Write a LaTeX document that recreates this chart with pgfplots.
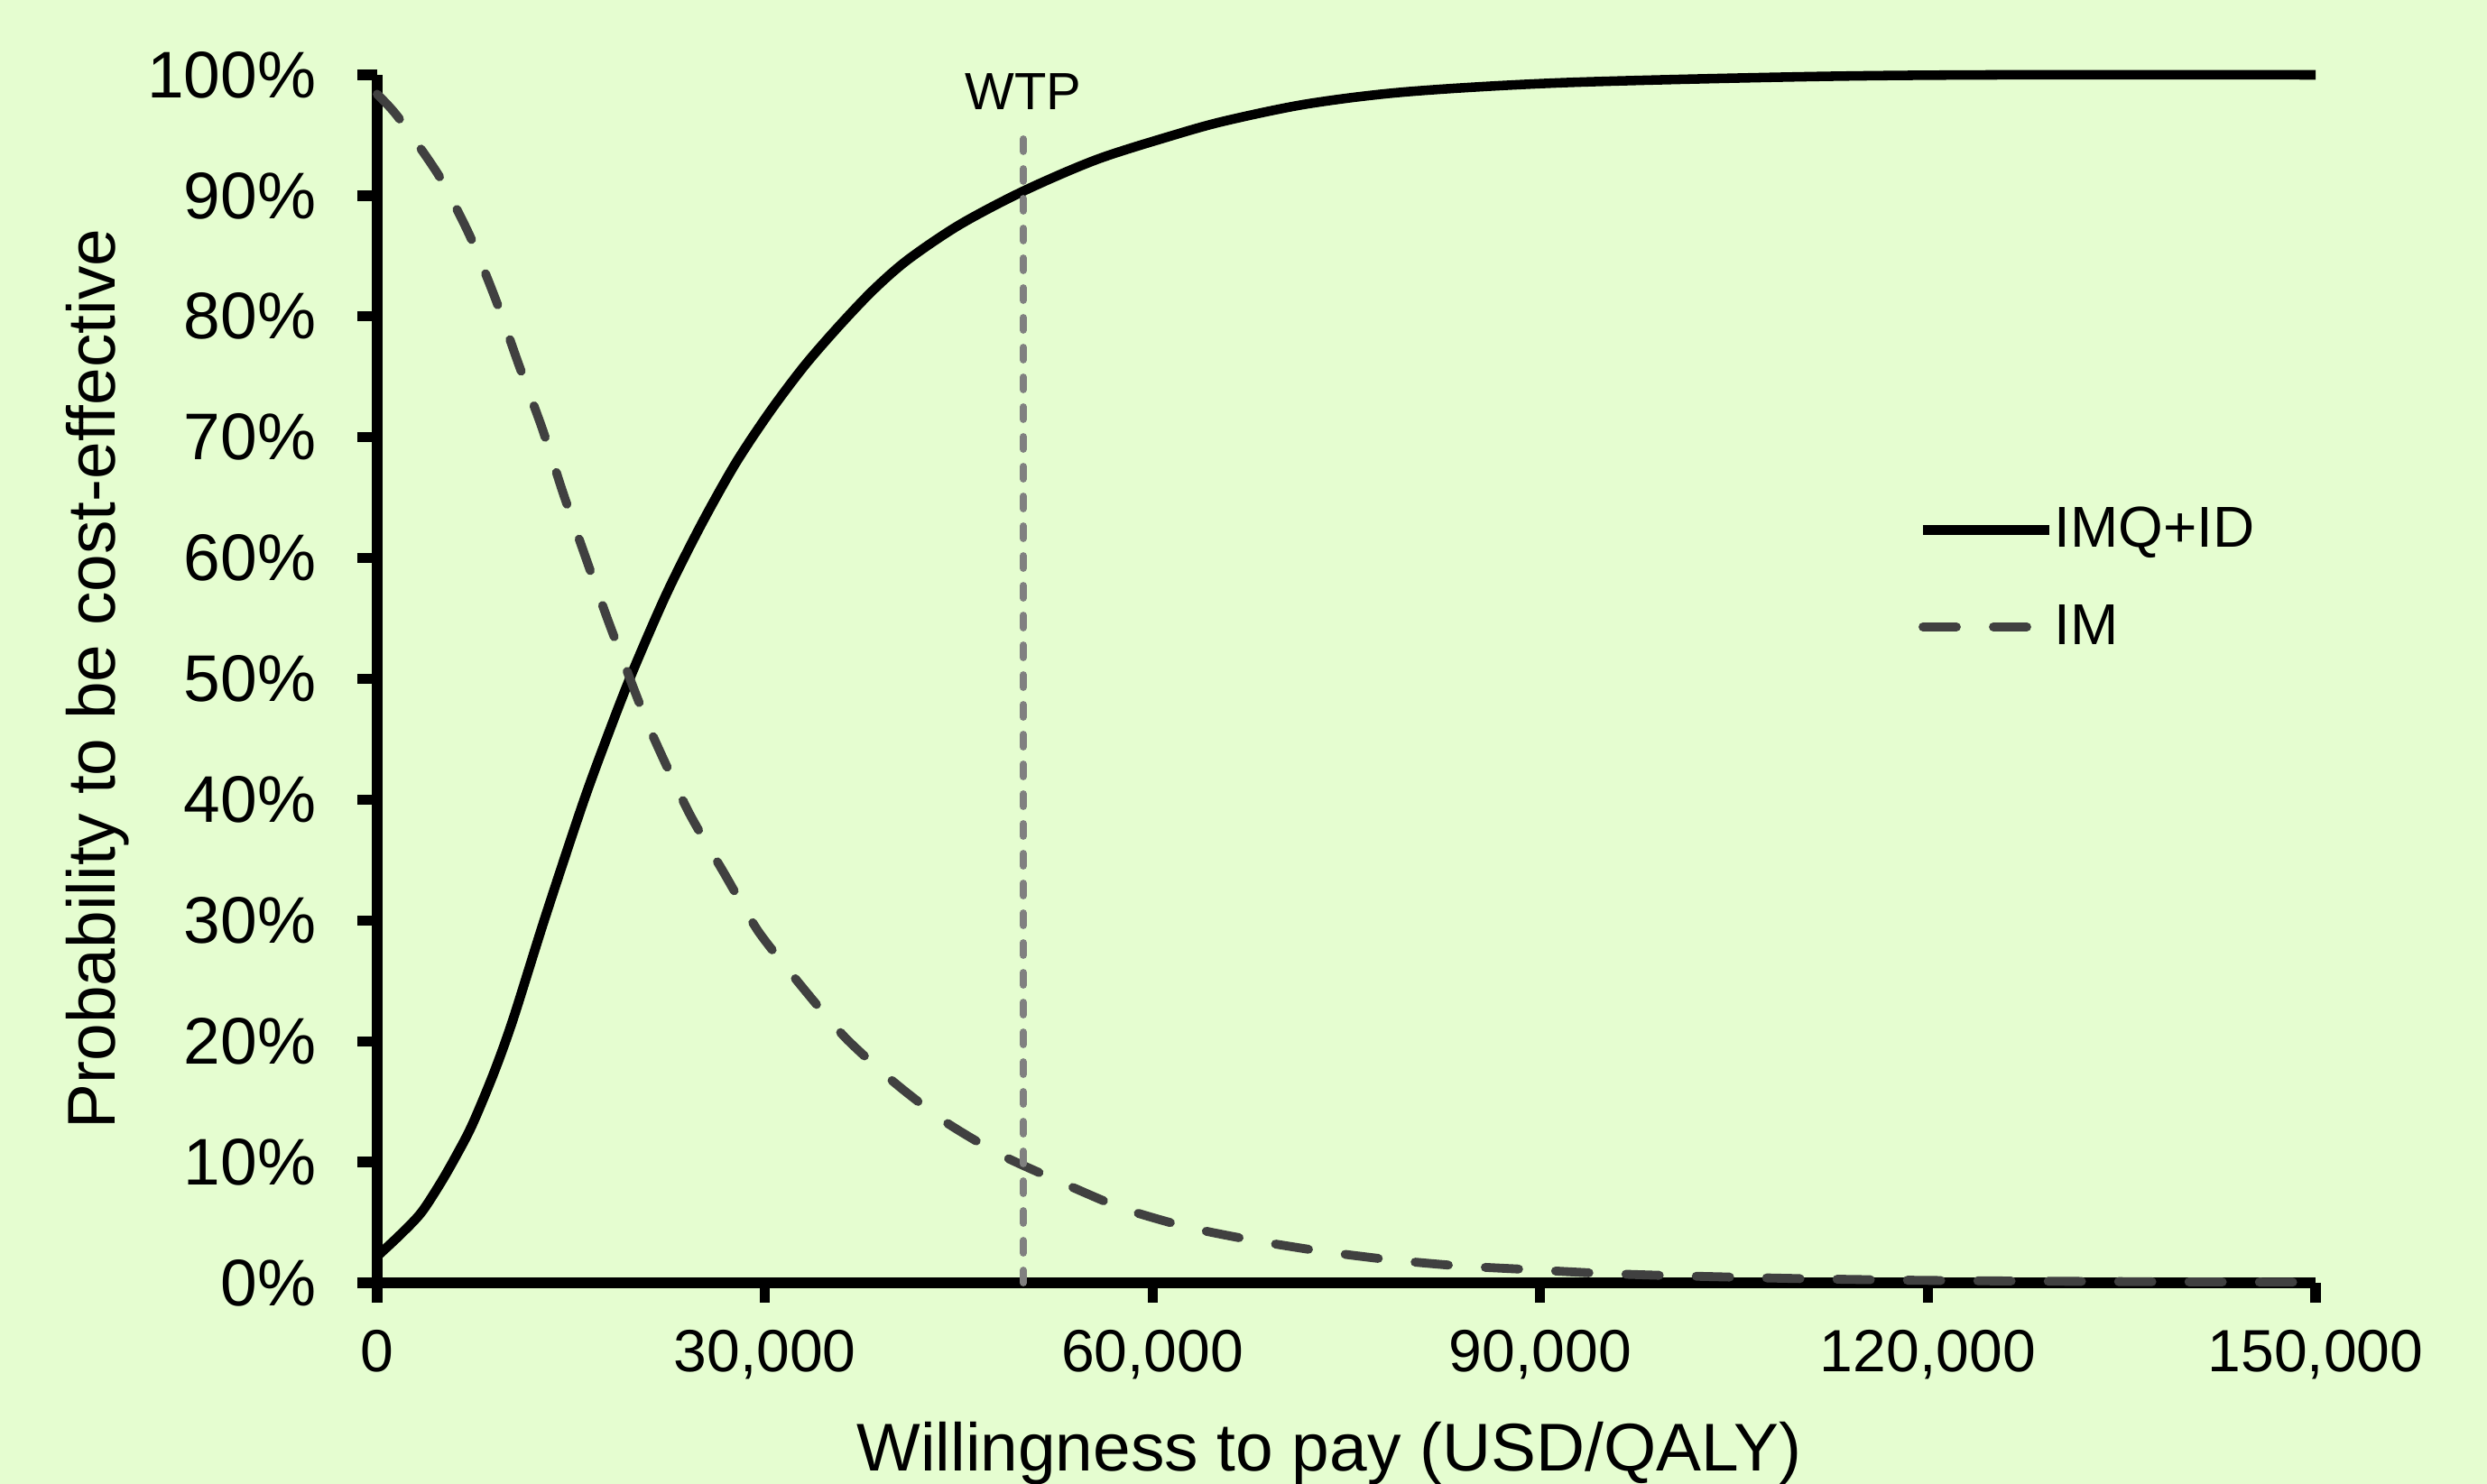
\documentclass[border=0pt]{standalone}
\usepackage{pgfplots}
\pgfplotsset{compat=1.18}
\usepackage{fontspec}
\setmainfont{Liberation Sans}
\definecolor{bgc}{RGB}{229,253,208}
\definecolor{imc}{RGB}{64,64,64}
\definecolor{wtpc}{RGB}{128,128,128}
\begin{document}
\begin{tikzpicture}
\useasboundingbox[fill=bgc] (-4.18,-2.23) rectangle (23.38,14.22);
\begin{axis}[
  at={(0,0)}, anchor=south west,
  scale only axis, width=21.48cm, height=13.39cm,
  xmin=0, xmax=150000, ymin=0, ymax=100,
  axis lines=left,
  axis line style={-, line width=3.2pt},
  clip=false,
  xtick={0,30000,60000,90000,120000,150000},
  xticklabels={0,{30,000},{60,000},{90,000},{120,000},{150,000}},
  ytick={0,10,20,30,40,50,60,70,80,90,100},
  yticklabels={0\%,10\%,20\%,30\%,40\%,50\%,60\%,70\%,80\%,90\%,100\%},
  tick align=outside,
  major tick length=0.22cm,
  tick style={line width=3.2pt, black},
  scaled x ticks=false,
  yticklabel style={font=\fontsize{20.8}{24}\selectfont, anchor=east, inner sep=0pt, xshift=-0.45cm},
  xticklabel style={font=\fontsize{18.8}{22}\selectfont, anchor=north, inner sep=0pt, yshift=-0.3cm},
  xlabel={Willingness to pay (USD/QALY)},
  ylabel={Probability to be cost-effective},
  xlabel style={font=\fontsize{21.3}{25}\selectfont, at={(axis description cs:0.5,0)}, anchor=base, yshift=-2.08cm, xshift=-0.19cm},
  ylabel style={font=\fontsize{21.3}{25}\selectfont, at={(axis description cs:0,0.5)}, anchor=base, yshift=2.9cm},
  legend style={at={(axis description cs:0.7947,0.6426)}, anchor=north west, draw=none, fill=none,
    font=\fontsize{18.2}{22}\selectfont, row sep=0.58cm, inner sep=0pt,
    nodes={inner sep=0pt}},
  legend cell align=left,
  legend image code/.code={\draw[#1] (0cm,0cm) -- (1.4cm,0cm);},
]
\addplot[black, line width=3pt, smooth, tension=0.5] coordinates {
(0,2.2) (1800,4.0) (3400,5.8) (4870,8.2) (6000,10.3) (7320,13.0) (9000,17.3) (10510,21.8) (12950,30.1) (15890,39.6) (17800,45.2) (19690,50.4) (22370,57.0) (25040,62.7) (27710,67.8) (30380,72.1) (33050,75.9) (35730,79.2) (38400,82.2) (41070,84.7) (45080,87.6) (50050,90.4) (55700,93.0) (61600,95.0) (65660,96.2) (72000,97.6) (79680,98.6) (91720,99.35) (110500,99.85) (125000,100) (150000,100)
};
\addlegendentry{IMQ+ID}
\addplot[imc, line width=2.8pt, line cap=round, dash pattern=on 0.37cm off 0.41cm, smooth, tension=0.4] coordinates {
(0,98.4) (1550,96.6) (4750,91.7) (7160,86.7) (9170,81.4) (10960,76.0) (12780,70.7) (14380,65.4) (16180,59.9) (17980,54.5) (20920,46.3) (24090,39.0) (26800,34.0) (29490,29.1) (32800,24.6) (36220,20.3) (40000,16.6) (44000,13.3) (48250,10.6) (52770,8.4) (57600,6.2) (62740,4.6) (67900,3.5) (73180,2.6) (78480,1.9) (83780,1.4) (89080,1.1) (94380,0.8) (100000,0.6) (110000,0.35) (120000,0.2) (135000,0.1) (150000,0.05)
};
\addlegendentry{IM}
\addplot[wtpc, line width=2.2pt, line cap=round, dash pattern=on 0.14cm off 0.19cm, forget plot] coordinates {(50000,0) (50000,95.1)};
\node[font=\fontsize{16.5}{20}\selectfont, anchor=base, inner sep=0pt] at (axis cs:50000,97.1) {WTP};
\end{axis}
\end{tikzpicture}
\end{document}
